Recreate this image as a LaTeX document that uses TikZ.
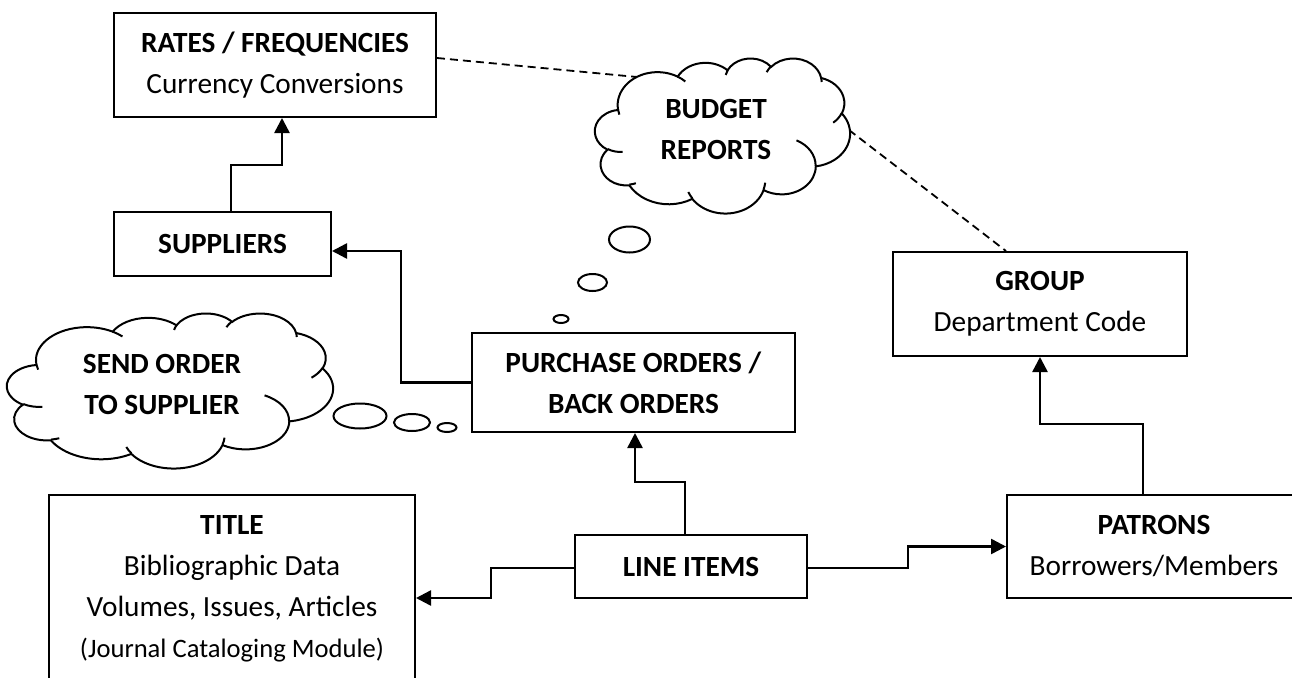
\documentclass[tikz,border=0pt]{standalone}
\usepackage{fontspec}
\setmainfont{Carlito}
\usetikzlibrary{arrows.meta}

% text sizes used in the boxes
\newcommand\bigfont{\fontsize{29.3}{41}\selectfont}
\newcommand\smallfont{\fontsize{26.6}{40}\selectfont}

% elliptical arc given as in DrawingML: radii, start angle and sweep
% (true angles in degrees, turned into the ellipse parameter here)
\newcommand\ooarc[4]{%
  \pgfextra{%
    \pgfmathparse{atan2(#1*sin(#3),#2*cos(#3))}\xdef\ooTs{\pgfmathresult}%
    \pgfmathparse{atan2(#1*sin(#3+#4),#2*cos(#3+#4))}\xdef\ooTe{\pgfmathresult}%
    \pgfmathparse{#4+Mod(\ooTe-\ooTs-#4+540,360)-180}\xdef\ooTd{\pgfmathresult}%
  }%
  arc[start angle=\ooTs, delta angle=\ooTd, x radius=#1, y radius=#2]}

% thought cloud inside the frame (left, top, width, height)
\newcommand\wordcloud[4]{%
  \begin{scope}[shift={(#1,#2)}, x={#3pt/43.2}, y={-#4pt/43.2}]
    \draw[cloudline, fill=white] (3.900,14.370)
      \ooarc{6.753}{9.190}{-190.4875}{123.7805}
      \ooarc{5.333}{7.267}{-144.1024}{89.9452}
      \ooarc{4.365}{5.945}{-145.8079}{99.7230}
      \ooarc{4.857}{6.595}{-130.9861}{117.2417}
      \ooarc{5.333}{7.273}{-78.7089}{109.0269}
      \ooarc{6.775}{9.220}{-46.2673}{130.2690}
      \ooarc{5.785}{7.867}{0.6250}{114.0333}
      \ooarc{6.752}{9.215}{22.4516}{115.1726}
      \ooarc{7.720}{10.543}{66.2426}{75.7110}
      \ooarc{4.360}{5.918}{-274.9421}{146.7356}
      \ooarc{4.345}{5.945}{-246.8285}{152.5189} -- cycle;
    \draw[cloudline] (4.693,26.177) \ooarc{4.345}{5.945}{86.7420}{26.4295};
    \draw[cloudline] (6.928,34.899) \ooarc{4.360}{5.918}{73.6105}{11.4493};
    \draw[cloudline] (16.478,39.090) \ooarc{6.752}{9.215}{137.6242}{14.0811};
    \draw[cloudline] (28.827,34.751) \ooarc{6.752}{9.215}{6.4533}{15.9984};
    \draw[cloudline] (34.129,22.954) \ooarc{5.785}{7.867}{-70.2924}{70.9174};
    \draw[cloudline] (41.798,15.354) \ooarc{5.333}{7.273}{30.3180}{27.7515};
    \draw[cloudline] (38.324,5.426) \ooarc{4.857}{6.595}{-13.7443}{14.8589};
    \draw[cloudline] (29.078,3.952) \ooarc{4.857}{6.595}{-149.1815}{18.1954};
    \draw[cloudline] (22.141,4.720) \ooarc{4.365}{5.945}{-163.4943}{17.6864};
    \draw[cloudline] (14.000,5.192) \ooarc{6.753}{9.190}{-66.7070}{12.3194};
    \draw[cloudline] (4.127,15.789) \ooarc{6.753}{9.190}{157.6544}{11.8582};
  \end{scope}}

\begin{document}
\begin{tikzpicture}[x=1pt, y=-1pt,
  box/.style={draw, line width=2pt, inner sep=0pt, align=center, font=\bigfont},
  link/.style={line width=2.5pt, line join=miter, -{Triangle[length=15pt,width=15pt]}},
  assoc/.style={line width=1.8pt, dash pattern=on 8pt off 5pt},
  cloudline/.style={line width=2pt},
  bubble/.style={draw, line width=2pt, fill=white},
  cloudtext/.style={align=center, font=\bigfont\bfseries, inner sep=0pt}]
\useasboundingbox (0,0) rectangle (1292,677);
\clip (0,0) rectangle (1292,677);

% entity boxes
\node[box, minimum width=322pt, minimum height=104pt] (rates) at (275,65)
  {\textbf{RATES / FREQUENCIES}\\Currency Conversions};
\node[box, minimum width=217pt, minimum height=64pt] (supp) at (222.5,244)
  {\textbf{SUPPLIERS}};
\node[box, minimum width=323pt, minimum height=99pt] (po) at (633.5,382.5)
  {\textbf{PURCHASE ORDERS /}\\\textbf{BACK ORDERS}};
\node[box, minimum width=294pt, minimum height=104pt] (group) at (1040,304)
  {\textbf{GROUP}\\Department Code};
\node[box, minimum width=232pt, minimum height=63pt] (line) at (691,566.5)
  {\textbf{LINE ITEMS}};
\node[box, minimum width=366pt, minimum height=188pt] (title) at (232,589)
  {\textbf{TITLE}\\Bibliographic Data\\Volumes, Issues, Articles\\{\smallfont (Journal Cataloging Module)}};
\node[box, minimum width=294pt, minimum height=103pt] (patrons) at (1154,546.5)
  {\textbf{PATRONS}\\Borrowers/Members};

% relations
\draw[link] ([xshift=8.5pt]supp.north) -- ++(0,-46) -| ([xshift=7pt]rates.south);
\draw[link] (po.west) -- ++(-70,0) |- ([yshift=-7pt]supp.east);
\draw[link] ([xshift=-6pt]line.north) -- ++(0,-52) -| ([xshift=1.5pt]po.south);
\draw[link] ([yshift=-1.5pt]line.west) -- ++(-83,0) |- ([yshift=-9pt]title.east);
\draw[link] ([yshift=-1.5pt]line.east) -- ++(100,0) |- (patrons.west);
\draw[link] ([xshift=-11pt]patrons.north) -- ++(0,-70) -| (group.south);

% budget reports thought cloud
\coordinate (budget-l) at (637,77);
\coordinate (budget-r) at (849,130);
\draw[assoc] ([yshift=7pt]rates.east) -- (budget-l);
\draw[assoc] (budget-r) -- ([xshift=-34pt]group.north);
\wordcloud{595}{58}{255}{155}
\node[cloudtext] (budget) at (716,129) {BUDGET\\REPORTS};
\draw[bubble] (629.5,239.5) ellipse [x radius=20.5, y radius=13];
\draw[bubble] (592.5,282.5) ellipse [x radius=14.5, y radius=8.5];
\draw[bubble] (561,319) ellipse [x radius=7.5, y radius=4];

% send order thought cloud
\wordcloud{7}{313}{326}{155}
\node[cloudtext] (send) at (162,384) {SEND ORDER\\TO SUPPLIER};
\draw[bubble] (360,416) ellipse [x radius=26.5, y radius=12.5];
\draw[bubble] (412,422.5) ellipse [x radius=18, y radius=8.5];
\draw[bubble] (447,427.5) ellipse [x radius=9.5, y radius=4.5];
\end{tikzpicture}
\end{document}
